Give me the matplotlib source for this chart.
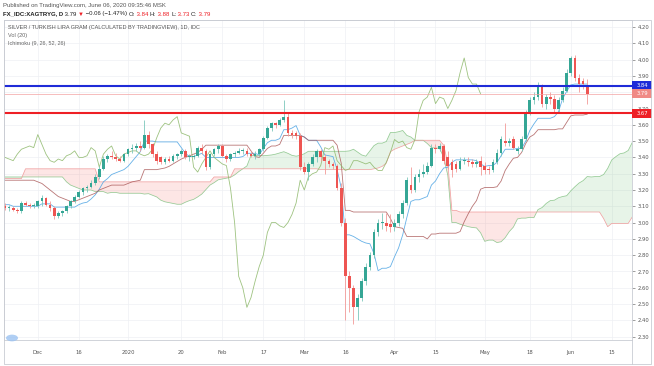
import numpy as np
import pandas as pd
import matplotlib
matplotlib.use('Agg')
import matplotlib.pyplot as plt
from matplotlib.patches import Rectangle, Circle
from matplotlib.lines import Line2D

# ---------------- data ----------------
start_date = '2019-11-20'

opens = [3.10,3.09,3.09,3.08,3.07,3.12,3.11,3.10,3.10,3.13,
         3.15,3.11,3.09,3.04,3.06,3.07,3.10,3.13,3.16,3.19,
         3.21,3.22,3.24,3.28,3.33,3.39,3.41,3.40,3.39,3.38,
         3.42,3.45,3.46,3.47,3.46,3.54,3.48,3.42,3.40,3.37,
         3.39,3.38,3.41,3.42,3.44,3.40,3.40,3.41,3.46,3.44,
         3.34,3.42,3.45,3.47,3.41,3.39,3.42,3.43,3.44,3.44,
         3.42,3.41,3.42,3.45,3.52,3.58,3.61,3.60,3.63,3.65,
         3.55,3.55,3.53,3.34,3.31,3.36,3.40,3.44,3.40,3.38,
         3.36,3.35,3.21,3.00,2.67,2.60,2.48,2.54,2.64,2.73,
         2.80,2.94,3.00,3.00,2.99,2.97,3.00,3.05,3.12,3.23,
         3.20,3.28,3.30,3.31,3.35,3.46,3.45,3.47,3.40,3.37,
         3.36,3.33,3.38,3.38,3.37,3.36,3.38,3.35,3.33,3.32,
         3.37,3.43,3.50,3.49,3.51,3.44,3.45,3.51,3.68,3.75,
         3.77,3.83,3.73,3.77,3.76,3.70,3.75,3.81,3.92,4.01,
         3.89,3.87,3.84]
highs = [3.12,3.11,3.10,3.09,3.13,3.13,3.12,3.12,3.14,3.17,
         3.16,3.13,3.10,3.07,3.08,3.11,3.14,3.17,3.20,3.22,
         3.23,3.26,3.30,3.35,3.41,3.42,3.44,3.43,3.41,3.43,
         3.46,3.48,3.49,3.50,3.63,3.56,3.49,3.44,3.41,3.40,
         3.41,3.42,3.43,3.45,3.45,3.42,3.42,3.47,3.48,3.45,
         3.43,3.46,3.48,3.48,3.42,3.43,3.44,3.46,3.46,3.46,
         3.44,3.44,3.46,3.53,3.59,3.62,3.62,3.64,3.75,3.67,
         3.57,3.56,3.55,3.37,3.37,3.42,3.45,3.45,3.42,3.39,
         3.37,3.36,3.24,3.03,2.70,2.62,2.56,2.66,2.75,2.82,
         2.96,3.02,3.06,3.06,3.05,3.02,3.07,3.14,3.28,3.34,
         3.30,3.33,3.36,3.37,3.48,3.48,3.49,3.48,3.44,3.39,
         3.38,3.40,3.40,3.40,3.39,3.39,3.41,3.37,3.35,3.39,
         3.45,3.53,3.61,3.52,3.53,3.47,3.53,3.69,3.77,3.80,
         3.86,3.85,3.79,3.80,3.78,3.77,3.83,3.94,4.02,4.03,
         3.91,3.89,3.88]
lows = [3.08,3.07,3.07,3.06,3.06,3.10,3.09,3.09,3.09,3.10,
        3.10,3.07,3.02,3.03,3.04,3.06,3.09,3.12,3.15,3.17,
        3.19,3.21,3.23,3.27,3.32,3.37,3.39,3.38,3.37,3.37,
        3.41,3.43,3.44,3.44,3.45,3.46,3.40,3.36,3.36,3.36,
        3.37,3.37,3.39,3.41,3.39,3.38,3.39,3.40,3.42,3.32,
        3.33,3.41,3.43,3.40,3.37,3.38,3.40,3.42,3.42,3.41,
        3.40,3.39,3.41,3.44,3.51,3.56,3.58,3.59,3.62,3.53,
        3.52,3.51,3.32,3.30,3.26,3.35,3.37,3.38,3.30,3.34,
        3.33,3.20,2.98,2.40,2.45,2.38,2.40,2.52,2.62,2.71,
        2.78,2.92,2.96,2.95,2.94,2.95,2.98,3.03,3.11,3.18,
        3.19,3.25,3.28,3.30,3.34,3.43,3.44,3.36,3.33,3.28,
        3.31,3.32,3.36,3.35,3.34,3.34,3.29,3.30,3.30,3.31,
        3.36,3.41,3.47,3.47,3.45,3.42,3.44,3.50,3.66,3.73,
        3.75,3.71,3.70,3.73,3.68,3.67,3.74,3.80,3.90,3.87,
        3.80,3.82,3.73]
closes = [3.09,3.09,3.08,3.07,3.12,3.11,3.10,3.10,3.13,3.15,
          3.11,3.09,3.04,3.06,3.07,3.10,3.13,3.16,3.19,3.21,
          3.22,3.24,3.28,3.33,3.39,3.41,3.40,3.39,3.38,3.42,
          3.45,3.46,3.47,3.46,3.54,3.48,3.42,3.38,3.37,3.39,
          3.38,3.41,3.42,3.44,3.40,3.40,3.41,3.46,3.44,3.34,
          3.42,3.45,3.47,3.41,3.39,3.42,3.43,3.44,3.44,3.42,
          3.41,3.42,3.45,3.52,3.58,3.61,3.60,3.63,3.65,3.55,
          3.54,3.53,3.34,3.31,3.36,3.40,3.44,3.40,3.38,3.36,
          3.35,3.21,3.00,2.67,2.60,2.48,2.54,2.64,2.73,2.80,
          2.94,3.00,3.00,2.98,2.97,3.00,3.05,3.12,3.26,3.20,
          3.28,3.30,3.31,3.35,3.46,3.45,3.47,3.38,3.35,3.32,
          3.33,3.38,3.38,3.37,3.36,3.37,3.34,3.32,3.32,3.37,
          3.43,3.51,3.49,3.50,3.46,3.45,3.51,3.68,3.75,3.77,
          3.83,3.73,3.77,3.76,3.70,3.75,3.81,3.92,4.01,3.89,
          3.85,3.85,3.79]

# Ichimoku values before enough history is visible
tenkan_early = [3.11,3.11,3.10,3.10,3.10,3.10,3.10,3.10]
kijun_early = [3.26,3.26,3.26,3.26,3.26,3.26,3.26,3.26,3.25,3.24,
               3.22,3.20,3.18,3.16,3.15,3.14,3.13,3.13,3.14,3.15,
               3.16,3.17,3.18,3.20,3.21]
span_a_early = [3.28,3.28,3.28,3.28,3.28,3.28,3.28,3.28,3.28,3.28,
                3.28,3.28,3.28,3.28,3.28,3.25,3.23,3.22,3.21,3.20,
                3.20,3.20,3.19,3.19,3.19,3.18]
span_b_early = [3.27,3.27,3.27,3.27,3.27,
                3.33,3.33,3.33,3.33,3.33,3.33,3.33,3.33,3.33,3.33,
                3.33,3.33,3.33,3.33,3.33,3.33,3.33,3.33,
                3.25,3.25,3.25,3.25,3.25,3.25,3.25,3.25,3.25,3.25,
                3.25,3.25,3.25,3.25,3.25,3.25,3.25,3.25,3.25,3.25,
                3.25,3.25,3.25,3.25,3.25,3.25,3.25,3.25,
                3.28,3.28,3.28,3.28,3.28,
                3.33,3.33,3.33,3.33,3.33,3.33,3.33,3.33,3.33,3.33,
                3.33,3.33,3.33,3.33,3.33,3.33,3.33,3.33,3.33,3.33,3.33]

level_blue = 3.84
level_red = 3.67
last_price = 3.79

price_ticks = [2.30,2.40,2.50,2.60,2.70,2.80,2.90,3.00,3.10,3.20,
               3.30,3.40,3.50,3.60,3.70,3.80,3.90,4.00,4.10,4.20]
date_tick_dates = ['2019-12-02','2019-12-16','2020-01-01','2020-01-20','2020-02-03',
                   '2020-02-17','2020-03-02','2020-03-16','2020-04-01','2020-04-15',
                   '2020-05-01','2020-05-18','2020-06-01','2020-06-15']
date_tick_labels = ['Dec','16','2020','20','Feb','17','Mar','16','Apr','15',
                    'May','18','Jun','15']

# ---------------- computations ----------------
n = len(closes)
shift = 26
dates = pd.bdate_range(start_date, periods=n + shift + 10)
tick_pos = [dates.get_loc(pd.Timestamp(d)) for d in date_tick_dates]

h = pd.Series(highs, dtype=float)
l = pd.Series(lows, dtype=float)
tenkan = ((h.rolling(9).max() + l.rolling(9).min()) / 2).to_numpy()
tenkan[:len(tenkan_early)] = tenkan_early
kijun = ((h.rolling(26).max() + l.rolling(26).min()) / 2).to_numpy()
kijun[:len(kijun_early)] = kijun_early
spanb_src = ((h.rolling(52).max() + l.rolling(52).min()) / 2).to_numpy()

m = n + shift
span_a = np.full(m, np.nan)
span_b = np.full(m, np.nan)
span_a[shift:] = (tenkan + kijun) / 2
span_a[:len(span_a_early)] = span_a_early
span_b[shift:] = spanb_src
span_b[:len(span_b_early)] = span_b_early
chikou = np.array(closes[shift:], dtype=float)

x = np.arange(n)
xs = np.arange(m)

# ---------------- figure ----------------
W, H = 654, 366
fig = plt.figure(figsize=(W / 100, H / 100), dpi=100)
fig.patch.set_facecolor('white')

ax_left, ax_right, ax_top, ax_bot = 4, 632, 20, 340
ax = fig.add_axes([ax_left / W, (H - ax_bot) / H, (ax_right - ax_left) / W, (ax_bot - ax_top) / H])

y_top_px, p_top = 27, 4.20
ppx = 163.0  # pixels per 1.0 price
ax.set_ylim(p_top - (ax_bot - y_top_px) / ppx, p_top + (y_top_px - ax_top) / ppx)
ax.set_xlim((ax_left - 5) / 4.1, (ax_right - 5) / 4.1)

# grid
for v in price_ticks:
    ax.axhline(v, color='#eef0f4', lw=0.5, zorder=0)
for p in tick_pos:
    ax.axvline(p, color='#eef0f4', lw=0.5, zorder=0)

# cloud
ax.fill_between(xs, span_a, span_b, where=span_a >= span_b, interpolate=True,
                color='#4caf50', alpha=0.13, lw=0, zorder=1)
ax.fill_between(xs, span_a, span_b, where=span_a < span_b, interpolate=True,
                color='#f44336', alpha=0.13, lw=0, zorder=1)
ax.plot(xs, span_a, color='#7dbf7d', lw=0.55, alpha=0.8, zorder=2)
ax.plot(xs, span_b, color='#ef9a9a', lw=0.55, alpha=0.9, zorder=2)

# lines
ax.plot(x, tenkan, color='#4ba3e3', lw=0.6, alpha=0.85, zorder=3)
ax.plot(x, kijun, color='#a85454', lw=0.6, alpha=0.8, zorder=3)
ax.plot(np.arange(len(chikou)), chikou, color='#8db86a', lw=0.6, alpha=0.85, zorder=3)

# candles
o = np.array(opens); c = np.array(closes); hi = np.array(highs); lo = np.array(lows)
up = c >= o
col = np.where(up, '#35a695', '#ee5552')
wick_col = np.where(up, '#7cc7bb', '#f29a98')
ax.vlines(x, lo, hi, colors=wick_col, lw=0.6, zorder=4)
body_b = np.minimum(o, c)
body_h = np.maximum(np.abs(c - o), 0.006)
ax.bar(x, body_h, bottom=body_b, width=0.68, color=col, lw=0, zorder=5)

# horizontal levels
ax.axhline(last_price, color='#f3a2a2', lw=0.5, zorder=6)
ax.axhline(level_blue, color='#1f2bd8', lw=1.5, zorder=7)
ax.axhline(level_red, color='#ee1f25', lw=1.5, zorder=7)

# axes styling
for s in ['left', 'top', 'bottom', 'right']:
    ax.spines[s].set_color('#c9ccd3')
    ax.spines[s].set_linewidth(0.6)
ax.yaxis.tick_right()
ax.set_yticks(price_ticks)
ax.set_yticklabels([f'{v:.2f}' for v in price_ticks])
ax.tick_params(axis='y', labelsize=3.8, colors='#555555', length=2, width=0.4, pad=2)
ax.set_xticks(tick_pos)
ax.set_xticklabels(date_tick_labels)
ax.tick_params(axis='x', labelsize=3.8, colors='#555555', length=0, pad=7)

# price labels on the axis
ytr = ax.get_yaxis_transform()
box_w = 20 / (ax_right - ax_left)
box_h = 9 / ppx
for val, fc in [(level_blue, '#1f2bd8'), (last_price, '#f08a85'), (level_red, '#ee1f25')]:
    ax.add_patch(Rectangle((1.0, val - box_h / 2), box_w, box_h, transform=ytr,
                           fc=fc, ec='none', clip_on=False, zorder=10))
    ax.text(1.0 + box_w / 2, val, f'{val:.2f}', transform=ytr, ha='center', va='center',
            fontsize=3.8, color='white', clip_on=False, zorder=11)

# outer frame and time-axis row
def fx(px):
    return px / W
def fy(py):
    return 1 - py / H
fig.add_artist(Rectangle((fx(3.5), fy(364)), fx(651) - fx(3.5), fy(20) - fy(364),
                         transform=fig.transFigure, fill=False, ec='#c9ccd3', lw=0.6))
fig.add_artist(Line2D([fx(ax_right), fx(ax_right)], [fy(340), fy(364)],
                      transform=fig.transFigure, color='#c9ccd3', lw=0.6))
fig.add_artist(Circle((fx(12), fy(338)), 6 / W, transform=fig.transFigure,
                      fc='#9cc3f2', ec='none', alpha=0.8))

# header texts
fig.text(fx(3), fy(6), 'Published on TradingView.com, June 06, 2020 09:35:46 MSK',
         fontsize=4.3, color='#555555', va='center', family='Liberation Sans')

renderer = fig.canvas.get_renderer()
pieces = [('FX_IDC:XAGTRYG, D', '#222222', 'bold'),
          (' 3.79 ', '#222222', 'normal'),
          ('\u25bc', '#ee1f25', 'normal'),
          (' \u22120.06 (\u22121.47%) ', '#222222', 'normal'),
          ('O:', '#222222', 'normal'), (' 3.84 ', '#ee1f25', 'normal'),
          ('H:', '#222222', 'normal'), (' 3.88 ', '#ee1f25', 'normal'),
          ('L:', '#222222', 'normal'), (' 3.73 ', '#ee1f25', 'normal'),
          ('C:', '#222222', 'normal'), (' 3.79', '#ee1f25', 'normal')]
cur = 3.0
for txt, colr, wt in pieces:
    t = fig.text(fx(cur), fy(14), txt, fontsize=4.3, color=colr, fontweight=wt,
                 va='center', family=['Liberation Sans', 'DejaVu Sans'])
    bb = t.get_window_extent(renderer=renderer)
    cur += bb.width

fig.text(fx(8), fy(27), 'SILVER / TURKISH LIRA GRAM (CALCULATED BY TRADINGVIEW), 1D, IDC',
         fontsize=4.0, color='#555555', va='center', family='Liberation Sans')
fig.text(fx(8), fy(35), 'Vol (20)', fontsize=4.0, color='#666666', va='center',
         family='Liberation Sans')
fig.text(fx(8), fy(43), 'Ichimoku (9, 26, 52, 26)', fontsize=4.0, color='#666666',
         va='center', family='Liberation Sans')

fig.savefig('out.png', dpi=100)
